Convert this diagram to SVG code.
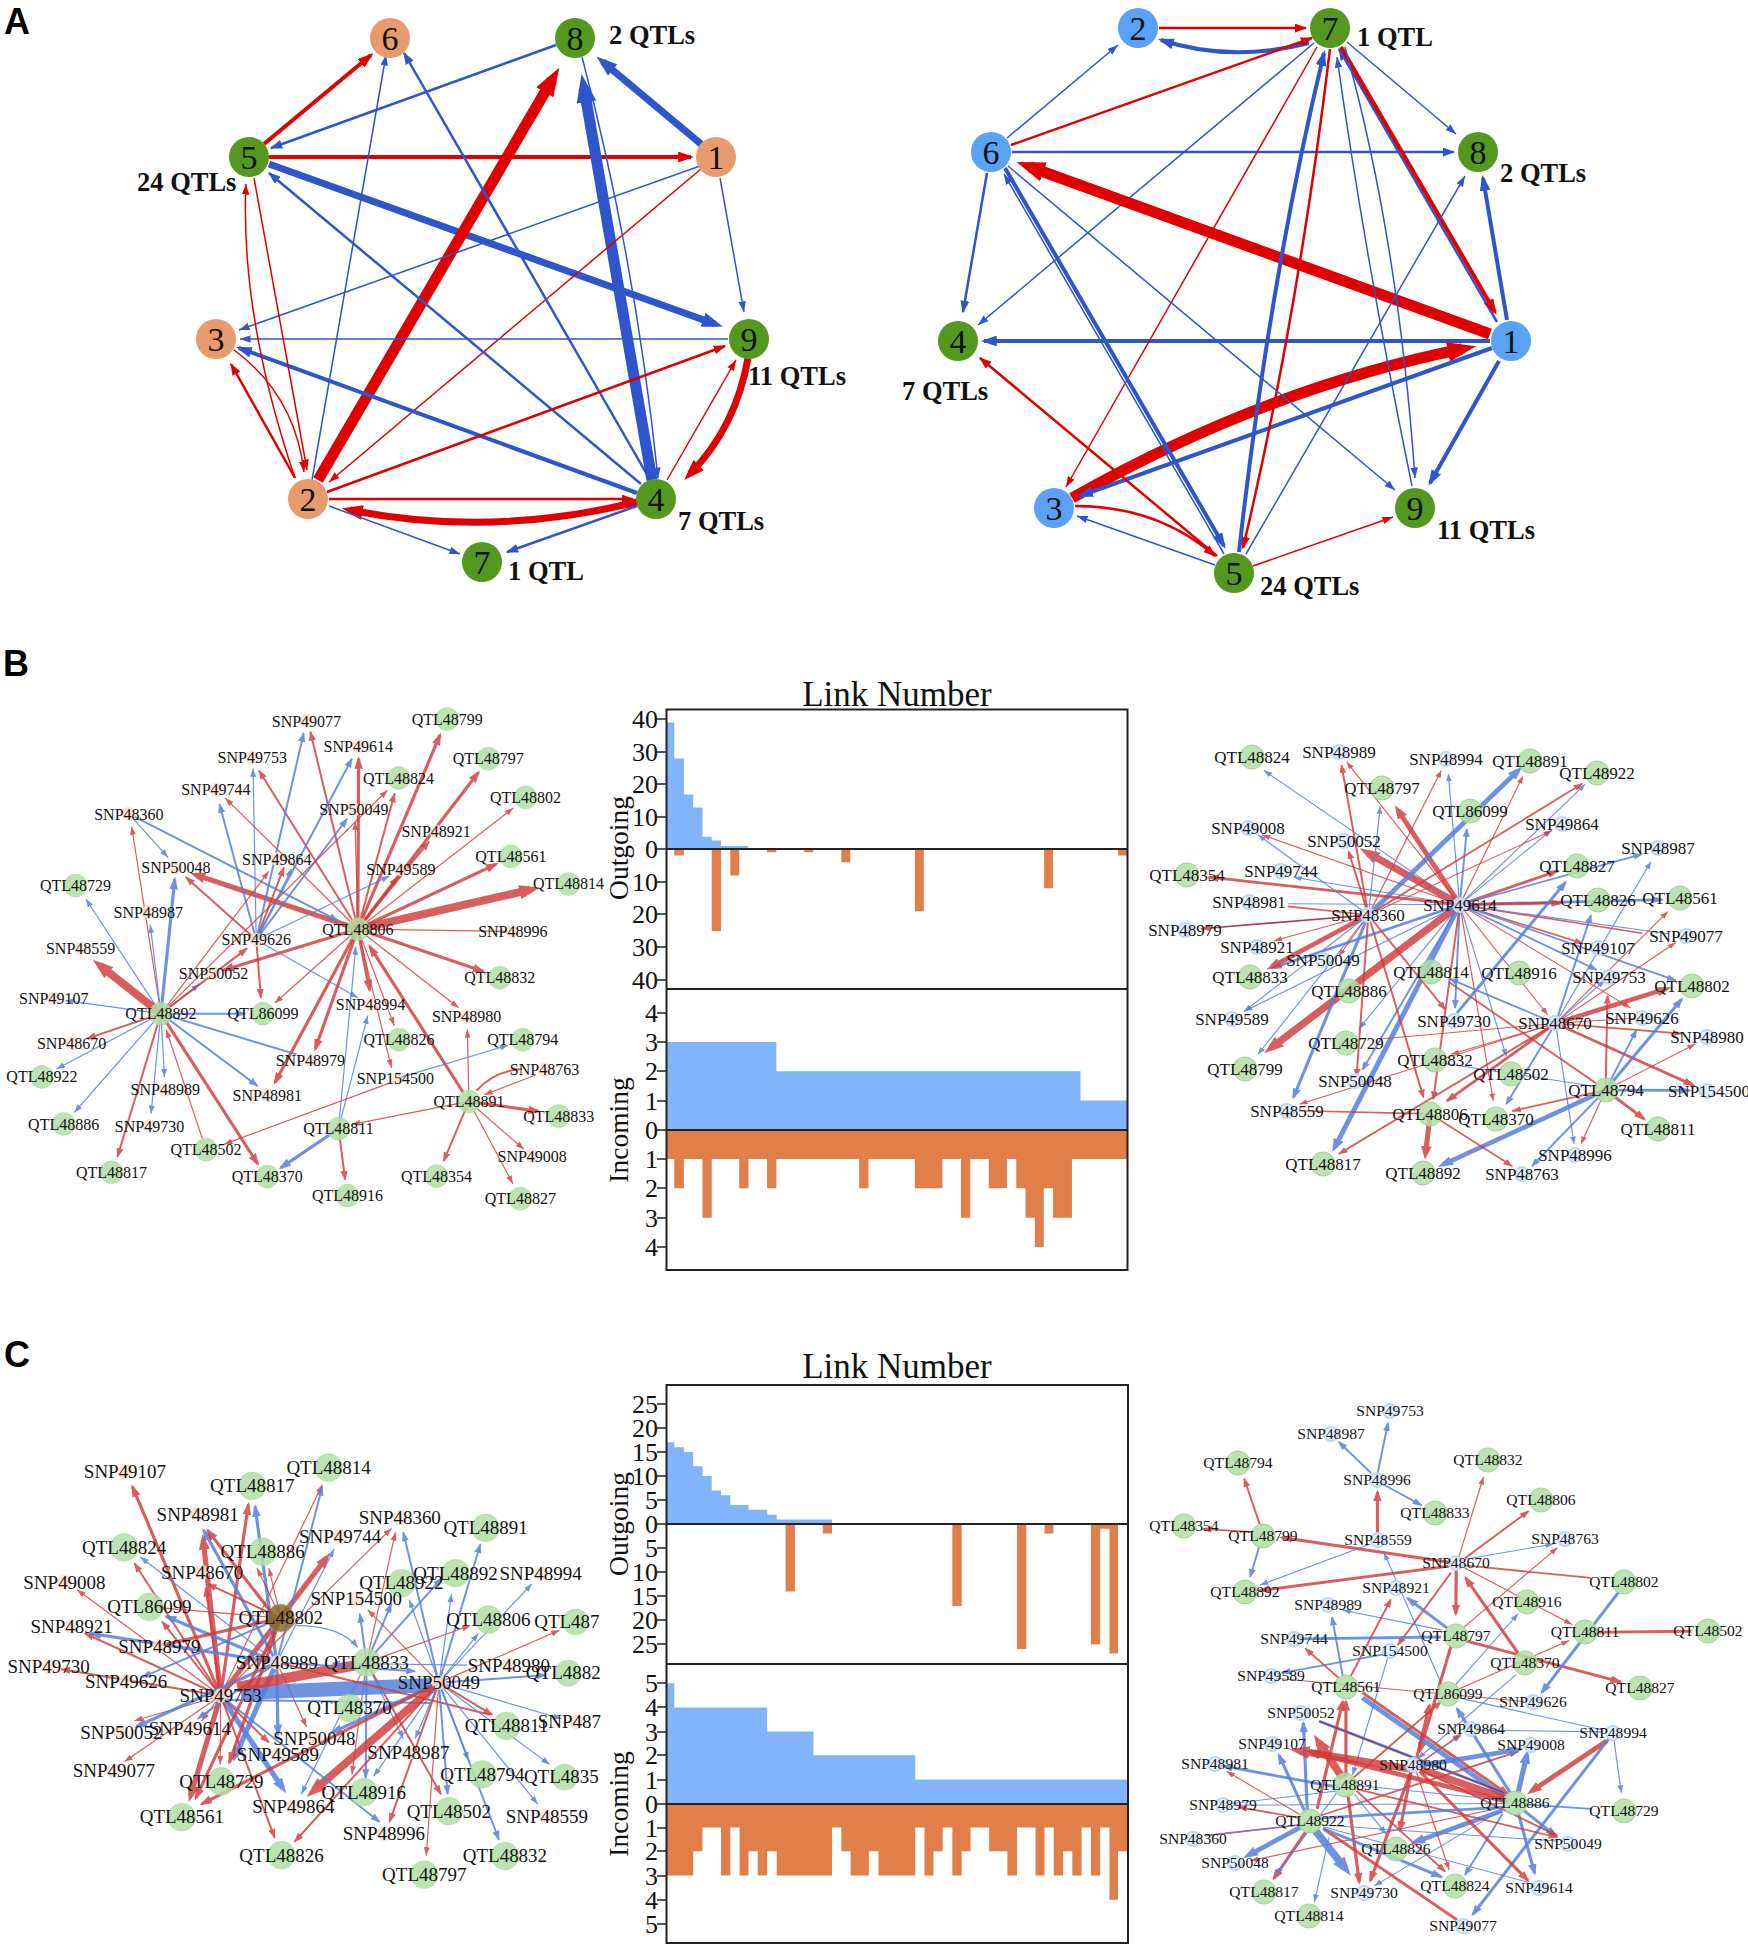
<svg xmlns="http://www.w3.org/2000/svg" width="1748" height="1952" viewBox="0 0 1748 1952">
<style>
text{font-family:"Liberation Serif","Times New Roman",serif;fill:#111;text-anchor:middle}
.lt{font-family:"Liberation Sans",Arial,sans-serif;font-weight:700;font-size:36px;text-anchor:start;fill:#000}
.ql{font-weight:700;font-size:26.5px;text-anchor:start}
.nn{font-size:34px}
.tk{font-size:26px;text-anchor:end}
.ttl{font-size:35px}
.ax{font-size:27.5px}
path{fill:none}
#h{fill:inherit}
.fb{fill:#81b4fb}.fo{fill:#e17f4b}
.tick{stroke:#222;stroke-width:1.5}
.frame{fill:none;stroke:#222;stroke-width:2}
.ao{fill:#e89b6c}.ag{fill:#54981f}.ab{fill:#5aa2f7}
.q{fill:#b3dea6;stroke:#9fd492;stroke-width:1;fill-opacity:.85}
.sp{fill:#fbe3d3;stroke:#f6d5bd;stroke-width:1;fill-opacity:.85}
.sb{fill:#e3effd;stroke:#bcd8f9;stroke-width:2;fill-opacity:.85}
.r1,.r2,.r3,.r4,.r5{stroke:#d23a3a;opacity:.82}
.b1,.b2,.b3,.b4,.b5{stroke:#5580dc;opacity:.85}
.r1,.b1{stroke-width:3}.r2,.b2{stroke-width:5}.r3,.b3{stroke-width:8}.r4,.b4{stroke-width:13}.r5,.b5{stroke-width:20}
.r1{marker-end:url(#nr1)}.r2{marker-end:url(#nr2)}.r3{marker-end:url(#nr3)}.r4{marker-end:url(#nr4)}.r5{marker-end:url(#nr5)}
.b1{marker-end:url(#nb1)}.b2{marker-end:url(#nb2)}.b3{marker-end:url(#nb3)}.b4{marker-end:url(#nb4)}.b5{marker-end:url(#nb5)}
.x,.n{marker-end:none}
.d{stroke:#a01030}
.R1,.R2,.R3,.R4,.R5{stroke:#e00000}
.B1,.B2,.B3,.B4,.B5{stroke:#2f55cc}
.R1,.B1{stroke-width:1.5}.R2,.B2{stroke-width:2.5}.R3,.B3{stroke-width:4}.R4,.B4{stroke-width:7}.R5,.B5{stroke-width:11}
.R1{marker-end:url(#ar1)}.R2{marker-end:url(#ar2)}.R3{marker-end:url(#ar3)}.R4{marker-end:url(#ar4)}.R5{marker-end:url(#ar5)}
.B1{marker-end:url(#ab1)}.B2{marker-end:url(#ab2)}.B3{marker-end:url(#ab3)}.B4{marker-end:url(#ab4)}.B5{marker-end:url(#ab5)}
.bl text{font-size:40.5px}
.cl text{font-size:48px}
.br text{font-size:17px}
.cr text{font-size:15.6px}
.cl .st{text-anchor:start}
</style>
<defs>
<path id="h" d="M0 0L10 5L0 10z"/>
<marker id="nr1" viewBox="0 0 10 10" refX="10" refY="5" markerWidth="7" markerHeight="5" orient="auto" preserveAspectRatio="none"><use href="#h" fill="#d23a3a"/></marker>
<marker id="nr2" viewBox="0 0 10 10" refX="9" refY="5" markerWidth="5" markerHeight="3.6" orient="auto" preserveAspectRatio="none"><use href="#h" fill="#d23a3a"/></marker>
<marker id="nr3" viewBox="0 0 10 10" refX="8" refY="5" markerWidth="4" markerHeight="2.7" orient="auto" preserveAspectRatio="none"><use href="#h" fill="#d23a3a"/></marker>
<marker id="nr4" viewBox="0 0 10 10" refX="6" refY="5" markerWidth="3" markerHeight="2.1" orient="auto" preserveAspectRatio="none"><use href="#h" fill="#d23a3a"/></marker>
<marker id="nr5" viewBox="0 0 10 10" refX="5" refY="5" markerWidth="2.6" markerHeight="1.8" orient="auto" preserveAspectRatio="none"><use href="#h" fill="#d23a3a"/></marker>
<marker id="nb1" viewBox="0 0 10 10" refX="10" refY="5" markerWidth="7" markerHeight="5" orient="auto" preserveAspectRatio="none"><use href="#h" fill="#5580dc"/></marker>
<marker id="nb2" viewBox="0 0 10 10" refX="9" refY="5" markerWidth="5" markerHeight="3.6" orient="auto" preserveAspectRatio="none"><use href="#h" fill="#5580dc"/></marker>
<marker id="nb3" viewBox="0 0 10 10" refX="8" refY="5" markerWidth="4" markerHeight="2.7" orient="auto" preserveAspectRatio="none"><use href="#h" fill="#5580dc"/></marker>
<marker id="nb4" viewBox="0 0 10 10" refX="6" refY="5" markerWidth="3" markerHeight="2.1" orient="auto" preserveAspectRatio="none"><use href="#h" fill="#5580dc"/></marker>
<marker id="nb5" viewBox="0 0 10 10" refX="5" refY="5" markerWidth="2.6" markerHeight="1.8" orient="auto" preserveAspectRatio="none"><use href="#h" fill="#5580dc"/></marker>
<marker id="ar1" viewBox="0 0 10 10" refX="10" refY="5" markerWidth="7" markerHeight="5" orient="auto" preserveAspectRatio="none"><use href="#h" fill="#e00000"/></marker>
<marker id="ar2" viewBox="0 0 10 10" refX="9" refY="5" markerWidth="5" markerHeight="3.6" orient="auto" preserveAspectRatio="none"><use href="#h" fill="#e00000"/></marker>
<marker id="ar3" viewBox="0 0 10 10" refX="8" refY="5" markerWidth="4" markerHeight="2.7" orient="auto" preserveAspectRatio="none"><use href="#h" fill="#e00000"/></marker>
<marker id="ar4" viewBox="0 0 10 10" refX="6" refY="5" markerWidth="3" markerHeight="2.1" orient="auto" preserveAspectRatio="none"><use href="#h" fill="#e00000"/></marker>
<marker id="ar5" viewBox="0 0 10 10" refX="5" refY="5" markerWidth="2.6" markerHeight="1.8" orient="auto" preserveAspectRatio="none"><use href="#h" fill="#e00000"/></marker>
<marker id="ab1" viewBox="0 0 10 10" refX="10" refY="5" markerWidth="7" markerHeight="5" orient="auto" preserveAspectRatio="none"><use href="#h" fill="#2f55cc"/></marker>
<marker id="ab2" viewBox="0 0 10 10" refX="9" refY="5" markerWidth="5" markerHeight="3.6" orient="auto" preserveAspectRatio="none"><use href="#h" fill="#2f55cc"/></marker>
<marker id="ab3" viewBox="0 0 10 10" refX="8" refY="5" markerWidth="4" markerHeight="2.7" orient="auto" preserveAspectRatio="none"><use href="#h" fill="#2f55cc"/></marker>
<marker id="ab4" viewBox="0 0 10 10" refX="6" refY="5" markerWidth="3" markerHeight="2.1" orient="auto" preserveAspectRatio="none"><use href="#h" fill="#2f55cc"/></marker>
<marker id="ab5" viewBox="0 0 10 10" refX="5" refY="5" markerWidth="2.6" markerHeight="1.8" orient="auto" preserveAspectRatio="none"><use href="#h" fill="#2f55cc"/></marker>
</defs>
<rect width="1748" height="1952" fill="#fff"/>
<text class="lt" x="4" y="34">A</text>
<text class="lt" x="3" y="676">B</text>
<text class="lt" x="4" y="1367">C</text>

<g id="al-connectors">
<path class="R3" d="M264 144L371 55"/>
<path class="B4" d="M701 144L603 62"/>
<path class="B2" d="M556 45L271 148"/>
<path class="R3" d="M269 157L691 157"/>
<path class="B4" d="M269 164L715 324"/>
<path class="R5" d="M318 480L552 80"/>
<path class="B5" d="M652 480L584 88"/>
<path class="B1" d="M582 57Q635 257 658 478"/>
<path class="B1" d="M700 166L239 330"/>
<path class="R1" d="M701 169L329 482"/>
<path class="B1" d="M720 178L744 312"/>
<path class="B1" d="M728 339L240 339"/>
<path class="B3" d="M637 493L239 348"/>
<path class="B2" d="M641 484L269 173"/>
<path class="B2" d="M649 478L404 53"/>
<path class="B1" d="M312 480L386 55"/>
<path class="R2" d="M327 492L725 346"/>
<path class="R1" d="M667 480L736 360"/>
<path class="R4" d="M748 358Q736 427 690 474"/>
<path class="R2" d="M329 499L633 499"/>
<path class="R4" d="M637 502Q490 538 350 510"/>
<path class="B1" d="M329 506L460 554"/>
<path class="B2" d="M637 506L507 552"/>
<path class="R1" d="M254 178L307 470"/>
<path class="R1" d="M295 478Q240 316 246 184"/>
<path class="R2" d="M295 478L231 364"/>
<path class="R1" d="M234 350Q295 395 304 472"/>
</g>
<g id="al-6"><circle class="ao" cx="390" cy="38" r="20"/><text class="nn" x="390" y="50">6</text></g>
<g id="al-8"><circle class="ag" cx="575" cy="38" r="20"/><text class="nn" x="575" y="50">8</text></g>
<g id="al-5"><circle class="ag" cx="249" cy="157" r="20"/><text class="nn" x="249" y="169">5</text></g>
<g id="al-1"><circle class="ao" cx="716" cy="157" r="20"/><text class="nn" x="716" y="169">1</text></g>
<g id="al-3"><circle class="ao" cx="216" cy="339" r="20"/><text class="nn" x="216" y="351">3</text></g>
<g id="al-9"><circle class="ag" cx="749" cy="339" r="20"/><text class="nn" x="749" y="351">9</text></g>
<g id="al-2"><circle class="ao" cx="308" cy="499" r="20"/><text class="nn" x="308" y="511">2</text></g>
<g id="al-4"><circle class="ag" cx="656" cy="499" r="20"/><text class="nn" x="656" y="511">4</text></g>
<g id="al-7"><circle class="ag" cx="482" cy="562" r="20"/><text class="nn" x="482" y="574">7</text></g>
<text class="ql" x="609" y="44">2 QTLs</text>
<text class="ql" x="137" y="191">24 QTLs</text>
<text class="ql" x="748" y="385">11 QTLs</text>
<text class="ql" x="678" y="530">7 QTLs</text>
<text class="ql" x="508" y="580">1 QTL</text>

<g id="ar-connectors">
<path class="R2" d="M1159 28L1306 28"/>
<path class="B3" d="M1309 43Q1231 63 1161 40"/>
<path class="B1" d="M1007 138L1118 45"/>
<path class="R2" d="M1011 145L1312 38"/>
<path class="B2" d="M1012 152L1454 152"/>
<path class="B2" d="M987 173L963 312"/>
<path class="B1" d="M1314 43L978 325"/>
<path class="R5" d="M1490 334L1030 167"/>
<path class="B3" d="M1490 341L984 341"/>
<path class="R5" d="M1072 498Q1264 389 1462 349"/>
<path class="B3" d="M1492 348L1080 496"/>
<path class="B2" d="M1497 322L1339 49"/>
<path class="R3" d="M1341 47L1495 312"/>
<path class="B3" d="M1507 320L1483 178"/>
<path class="B3" d="M1499 361L1430 483"/>
<path class="B1" d="M1347 42L1456 134"/>
<path class="R1" d="M1317 47L1066 487"/>
<path class="R2" d="M1330 49Q1298 316 1243 548"/>
<path class="B3" d="M1239 552Q1270 277 1324 53"/>
<path class="B1" d="M1246 554L1465 176"/>
<path class="B1" d="M1412 486Q1365 257 1337 57"/>
<path class="B1" d="M1345 47Q1398 237 1415 478"/>
<path class="B3" d="M1005 168L1224 546"/>
<path class="B1" d="M1224 554L1004 174"/>
<path class="B1" d="M1008 166L1395 490"/>
<path class="B1" d="M1215 565L1077 516"/>
<path class="R2" d="M1075 506Q1158 506 1215 556"/>
<path class="R2" d="M1217 556L980 358"/>
<path class="R1" d="M1253 566L1393 517"/>
</g>
<g id="ar-2"><circle class="ab" cx="1138" cy="28" r="20"/><text class="nn" x="1138" y="40">2</text></g>
<g id="ar-7"><circle class="ag" cx="1330" cy="28" r="20"/><text class="nn" x="1330" y="40">7</text></g>
<g id="ar-6"><circle class="ab" cx="991" cy="152" r="20"/><text class="nn" x="991" y="164">6</text></g>
<g id="ar-8"><circle class="ag" cx="1478" cy="152" r="20"/><text class="nn" x="1478" y="164">8</text></g>
<g id="ar-4"><circle class="ag" cx="958" cy="341" r="20"/><text class="nn" x="958" y="353">4</text></g>
<g id="ar-1"><circle class="ab" cx="1511" cy="341" r="20"/><text class="nn" x="1511" y="353">1</text></g>
<g id="ar-3"><circle class="ab" cx="1054" cy="508" r="20"/><text class="nn" x="1054" y="520">3</text></g>
<g id="ar-9"><circle class="ag" cx="1415" cy="508" r="20"/><text class="nn" x="1415" y="520">9</text></g>
<g id="ar-5"><circle class="ag" cx="1234" cy="573" r="20"/><text class="nn" x="1234" y="585">5</text></g>
<text class="ql" x="1357" y="46">1 QTL</text>
<text class="ql" x="1500" y="182">2 QTLs</text>
<text class="ql" x="902" y="400">7 QTLs</text>
<text class="ql" x="1437" y="539">11 QTLs</text>
<text class="ql" x="1260" y="595">24 QTLs</text>

<g id="chart-b">
<g transform="translate(600,670) scale(.357,.3954)">
<path class="fb" d="M186 453V133H208V224H235V315H261V348H287V422H313V431H339V445H415V453Z"/>
<path class="fo" d="M208 453V469H235V453ZM313 453V660H339V453ZM365 453V520H390V453ZM468 453V461H494V453ZM572 453V461H597V453ZM676 453V486H701V453ZM882 453V610H907V453ZM1244 453V552H1269V453ZM1451 453V469H1477V453Z"/>
<path class="fb" d="M186 1163V941H494V1015H1346V1089H1477V1163Z"/>
<path class="fo" d="M186 1163V1237H1477V1163ZM208 1237V1311H235V1237ZM287 1237V1385H313V1237ZM390 1237V1311H416V1237ZM468 1237V1311H494V1237ZM726 1237V1311H752V1237ZM882 1237V1311H959V1237ZM1011 1237V1385H1037V1237ZM1089 1237V1311H1140V1237ZM1166 1237V1311H1192V1237ZM1192 1237V1385H1218V1237ZM1218 1237V1459H1243V1237ZM1243 1237V1311H1269V1237ZM1269 1237V1385H1322V1237Z"/>
</g>
<rect class="frame" x="666.5" y="709.5" width="461" height="560.5"/>
<path class="tick" style="stroke-width:2" d="M666 849H1127M666 989H1127M666 1130H1127"/>
<path class="tick" d="M657 719H666M657 752H666M657 784H666M657 817H666M657 849H666M657 882H666M657 914H666M657 947H666M657 980H666M657 1013H666M657 1042H666M657 1071H666M657 1101H666M657 1130H666M657 1159H666M657 1188H666M657 1218H666M657 1247H666"/>
<text class="tk" x="658" y="728">40</text><text class="tk" x="658" y="761">30</text><text class="tk" x="658" y="793">20</text><text class="tk" x="658" y="826">10</text><text class="tk" x="658" y="858">0</text><text class="tk" x="658" y="891">10</text><text class="tk" x="658" y="923">20</text><text class="tk" x="658" y="956">30</text><text class="tk" x="658" y="989">40</text>
<text class="tk" x="658" y="1022">4</text><text class="tk" x="658" y="1051">3</text><text class="tk" x="658" y="1080">2</text><text class="tk" x="658" y="1110">1</text><text class="tk" x="658" y="1139">0</text><text class="tk" x="658" y="1168">1</text><text class="tk" x="658" y="1197">2</text><text class="tk" x="658" y="1227">3</text><text class="tk" x="658" y="1256">4</text>
<text class="ttl" x="897" y="706">Link Number</text>
<text class="ax" transform="translate(628,848) rotate(-90)">Outgoing</text>
<text class="ax" transform="translate(628,1130) rotate(-90)">Incoming</text>
</g>

<g id="chart-c">
<g transform="translate(600,1340) scale(.357,.39)">
<path class="fb" d="M186 471V262H208V275H235V287H261V324H287V349H313V386H339V398H365V423H416V435H468V448H495V460H650V471Z"/>
<path class="fo" d="M520 471V645H546V471ZM624 471V496H650V471ZM987 471V682H1013V471ZM1168 471V792H1194V471ZM1245 471V496H1270V471ZM1375 471V780H1401V471ZM1401 471V484H1427V471ZM1427 471V804H1451V471Z"/>
<path class="fb" d="M186 1189V880H208V942H468V1004H598V1065H883V1127H1479V1189Z"/>
<path class="fo" d="M186 1189V1373H261V1311H287V1250H339V1373H365V1250H391V1373H416V1311H442V1373H468V1311H495V1373H650V1250H676V1311H702V1373H753V1311H780V1373H883V1250H909V1373H934V1311H960V1250H987V1373H1013V1311H1038V1250H1090V1311H1141V1373H1168V1250H1220V1373H1245V1250H1271V1373H1297V1311H1323V1373H1349V1250H1375V1373H1401V1250H1427V1435H1451V1311H1479V1189Z"/>
</g>
<rect class="frame" x="666.5" y="1385" width="461.5" height="558"/>
<path class="tick" style="stroke-width:2" d="M666 1524H1128M666 1664H1128M666 1804H1128"/>
<path class="tick" d="M657 1404H666M657 1428H666M657 1452H666M657 1476H666M657 1500H666M657 1524H666M657 1548H666M657 1572H666M657 1596H666M657 1620H666M657 1644H666M657 1683H666M657 1707H666M657 1732H666M657 1755H666M657 1780H666M657 1804H666M657 1828H666M657 1851H666M657 1876H666M657 1900H666M657 1924H666"/>
<text class="tk" x="658" y="1413">25</text><text class="tk" x="658" y="1437">20</text><text class="tk" x="658" y="1461">15</text><text class="tk" x="658" y="1485">10</text><text class="tk" x="658" y="1509">5</text><text class="tk" x="658" y="1533">0</text><text class="tk" x="658" y="1557">5</text><text class="tk" x="658" y="1581">10</text><text class="tk" x="658" y="1605">15</text><text class="tk" x="658" y="1629">20</text><text class="tk" x="658" y="1653">25</text>
<text class="tk" x="658" y="1692">5</text><text class="tk" x="658" y="1716">4</text><text class="tk" x="658" y="1741">3</text><text class="tk" x="658" y="1764">2</text><text class="tk" x="658" y="1789">1</text><text class="tk" x="658" y="1813">0</text><text class="tk" x="658" y="1837">1</text><text class="tk" x="658" y="1860">2</text><text class="tk" x="658" y="1885">3</text><text class="tk" x="658" y="1909">4</text><text class="tk" x="658" y="1933">5</text>
<text class="ttl" x="897" y="1378">Link Number</text>
<text class="ax" transform="translate(628,1524) rotate(-90)">Outgoing</text>
<text class="ax" transform="translate(628,1804) rotate(-90)">Incoming</text>
</g>

<g class="bl" transform="translate(0,640) scale(.3954)">
<g id="bl-connectors">
<path class="r5" d="M905 731L1340 632"/>
<path class="r3" d="M905 731L1113 240"/><path class="r3" d="M905 731L1210 335"/><path class="r1" d="M905 731L1298 425"/><path class="r3" d="M905 731L1255 567"/>
<path class="r2" d="M905 731L1085 510"/><path class="r2" d="M905 731L1005 600"/><path class="r2" d="M905 731L998 388"/><path class="r1" d="M905 731L898 460"/><path class="r3" d="M905 731L907 300"/>
<path class="r2" d="M905 731L785 232"/><path class="r2" d="M905 731L655 330"/><path class="r1" d="M905 731L570 400"/><path class="r4" d="M905 731L495 594"/><path class="r3" d="M905 731L565 835"/>
<path class="r1 x" d="M905 731L1280 737"/><path class="r3" d="M905 731L1222 838"/><path class="r1" d="M905 731L1160 930"/><path class="r1" d="M905 731L997 975"/><path class="r1" d="M905 731L990 1082"/>
<path class="r3" d="M905 731L935 885"/><path class="r3" d="M905 731L695 1120"/><path class="r3" d="M905 731L797 1035"/><path class="r1" d="M905 731L695 918"/>
<path class="r3" d="M1172 1145L935 775"/>
<path class="r2" d="M648 758L470 600"/><path class="r2" d="M648 758L660 905"/><path class="r2" d="M648 758L718 575"/>
<path class="b2" d="M648 758L555 415"/><path class="b1" d="M648 758L640 325"/><path class="b2" d="M648 758L768 235"/><path class="b2" d="M648 758L890 300"/><path class="b2" d="M648 758L878 452"/><path class="b1" d="M648 758L985 597"/><path class="b1" d="M648 758L905 905"/><path class="b1" d="M648 758L738 578"/>
<path class="b1" d="M326 440L425 550"/><path class="b2" d="M326 440L855 710"/>
<path class="r1" d="M407 945L333 472"/><path class="b1" d="M407 945L217 655"/><path class="b1" d="M407 945L380 720"/><path class="b3" d="M407 945L442 605"/><path class="r5" d="M407 945L255 825"/><path class="b1" d="M407 945L165 912"/><path class="b2" d="M407 945L620 945"/><path class="r2" d="M407 945L220 1008"/><path class="b1" d="M407 945L143 1085"/><path class="b1" d="M407 945L188 1195"/><path class="b1" d="M407 945L416 1105"/><path class="b1" d="M407 945L382 1198"/><path class="r2" d="M407 945L297 1307"/><path class="r3" d="M407 945L652 1325"/><path class="b2" d="M407 945L652 1128"/><path class="b2 x" d="M407 945L750 1048"/><path class="r1" d="M512 1262L420 985"/>
<path class="r1" d="M407 945L680 585"/><path class="b1" d="M407 945L505 870"/><path class="r1" d="M407 945L980 380"/><path class="r2" d="M407 945L625 780"/>
<path class="b1" d="M856 1236L930 950"/><path class="b1" d="M856 1236L900 775"/><path class="b3" d="M856 1236L710 1335"/><path class="r2" d="M856 1236L873 1365"/>
<path class="r1" d="M1186 1167L890 1225"/><path class="r1" d="M1186 1167L1182 985"/><path class="r2 x" d="M1205 1140Q1250 1090 1320 1085"/><path class="r1" d="M1355 1100L1225 1150"/><path class="r3" d="M1186 1167L1362 1192"/><path class="r1" d="M1186 1167L1325 1288"/><path class="r1" d="M1186 1167L1297 1375"/><path class="r2" d="M1186 1167L1122 1318"/>
<path class="r1" d="M1000 1115L567 1275"/><path class="b1" d="M1000 1110L1285 1025"/>
</g>
<g id="bl-SNP49077"><circle class="sp" cx="775" cy="205" r="17"/><text x="775" y="219">SNP49077</text></g>
<g id="bl-QTL48799"><circle class="q" cx="1131" cy="200" r="29"/><text x="1131" y="214">QTL48799</text></g>
<g id="bl-SNP49614"><circle class="sp" cx="906" cy="268" r="17"/><text x="906" y="282">SNP49614</text></g>
<g id="bl-SNP49753"><circle class="sp" cx="638" cy="298" r="17"/><text x="638" y="312">SNP49753</text></g>
<g id="bl-QTL48797"><circle class="q" cx="1235" cy="300" r="29"/><text x="1235" y="314">QTL48797</text></g>
<g id="bl-QTL48824"><circle class="q" cx="1008" cy="349" r="29"/><text x="1008" y="363">QTL48824</text></g>
<g id="bl-SNP49744"><circle class="sp" cx="546" cy="379" r="17"/><text x="546" y="393">SNP49744</text></g>
<g id="bl-QTL48802"><circle class="q" cx="1329" cy="398" r="29"/><text x="1329" y="412">QTL48802</text></g>
<g id="bl-SNP48360"><circle class="sp" cx="326" cy="440" r="17"/><text x="326" y="454">SNP48360</text></g>
<g id="bl-SNP50049"><circle class="sp" cx="895" cy="429" r="17"/><text x="895" y="443">SNP50049</text></g>
<g id="bl-SNP48921"><circle class="sp" cx="1103" cy="485" r="17"/><text x="1103" y="499">SNP48921</text></g>
<g id="bl-QTL48561"><circle class="q" cx="1292" cy="547" r="29"/><text x="1292" y="561">QTL48561</text></g>
<g id="bl-SNP49864"><circle class="sp" cx="700" cy="554" r="17"/><text x="700" y="568">SNP49864</text></g>
<g id="bl-SNP50048"><circle class="sp" cx="445" cy="576" r="17"/><text x="445" y="590">SNP50048</text></g>
<g id="bl-SNP49589"><circle class="sp" cx="1014" cy="580" r="17"/><text x="1014" y="594">SNP49589</text></g>
<g id="bl-QTL48729"><circle class="q" cx="191" cy="621" r="29"/><text x="191" y="635">QTL48729</text></g>
<g id="bl-QTL48814"><circle class="q" cx="1438" cy="617" r="29"/><text x="1438" y="631">QTL48814</text></g>
<g id="bl-SNP48987"><circle class="sp" cx="375" cy="688" r="17"/><text x="375" y="702">SNP48987</text></g>
<g id="bl-QTL48806"><circle class="q" cx="905" cy="731" r="29"/><text x="905" y="745">QTL48806</text></g>
<g id="bl-SNP48996"><circle class="sp" cx="1297" cy="737" r="17"/><text x="1297" y="751">SNP48996</text></g>
<g id="bl-SNP49626"><circle class="sp" cx="648" cy="758" r="17"/><text x="648" y="772">SNP49626</text></g>
<g id="bl-SNP48559"><circle class="sp" cx="204" cy="780" r="17"/><text x="204" y="794">SNP48559</text></g>
<g id="bl-QTL48832"><circle class="q" cx="1264" cy="854" r="29"/><text x="1264" y="868">QTL48832</text></g>
<g id="bl-SNP50052"><circle class="sp" cx="540" cy="843" r="17"/><text x="540" y="857">SNP50052</text></g>
<g id="bl-SNP49107"><circle class="sp" cx="136" cy="907" r="17"/><text x="136" y="921">SNP49107</text></g>
<g id="bl-QTL48892"><circle class="q" cx="407" cy="945" r="29"/><text x="407" y="959">QTL48892</text></g>
<g id="bl-QTL86099"><circle class="q" cx="665" cy="945" r="29"/><text x="665" y="959">QTL86099</text></g>
<g id="bl-SNP48994"><circle class="sp" cx="937" cy="922" r="17"/><text x="937" y="936">SNP48994</text></g>
<g id="bl-SNP48980"><circle class="sp" cx="1180" cy="952" r="17"/><text x="1180" y="966">SNP48980</text></g>
<g id="bl-QTL48826"><circle class="q" cx="1009" cy="1011" r="29"/><text x="1009" y="1025">QTL48826</text></g>
<g id="bl-QTL48794"><circle class="q" cx="1322" cy="1011" r="29"/><text x="1322" y="1025">QTL48794</text></g>
<g id="bl-SNP48670"><circle class="sp" cx="181" cy="1020" r="17"/><text x="181" y="1034">SNP48670</text></g>
<g id="bl-SNP48979"><circle class="sp" cx="785" cy="1064" r="17"/><text x="785" y="1078">SNP48979</text></g>
<g id="bl-SNP48763"><circle class="sp" cx="1377" cy="1087" r="17"/><text x="1377" y="1101">SNP48763</text></g>
<g id="bl-QTL48922"><circle class="q" cx="106" cy="1105" r="29"/><text x="106" y="1119">QTL48922</text></g>
<g id="bl-SNP154500"><circle class="sp" cx="1000" cy="1110" r="17"/><text x="1000" y="1124">SNP154500</text></g>
<g id="bl-SNP48989"><circle class="sp" cx="418" cy="1137" r="17"/><text x="418" y="1151">SNP48989</text></g>
<g id="bl-SNP48981"><circle class="sp" cx="676" cy="1151" r="17"/><text x="676" y="1165">SNP48981</text></g>
<g id="bl-QTL48891"><circle class="q" cx="1186" cy="1167" r="29"/><text x="1186" y="1181">QTL48891</text></g>
<g id="bl-QTL48833"><circle class="q" cx="1413" cy="1204" r="29"/><text x="1413" y="1218">QTL48833</text></g>
<g id="bl-QTL48886"><circle class="q" cx="161" cy="1224" r="29"/><text x="161" y="1238">QTL48886</text></g>
<g id="bl-SNP49730"><circle class="sp" cx="378" cy="1230" r="17"/><text x="378" y="1244">SNP49730</text></g>
<g id="bl-QTL48811"><circle class="q" cx="856" cy="1236" r="29"/><text x="856" y="1250">QTL48811</text></g>
<g id="bl-QTL48502"><circle class="q" cx="521" cy="1289" r="29"/><text x="521" y="1303">QTL48502</text></g>
<g id="bl-SNP49008"><circle class="sp" cx="1346" cy="1305" r="17"/><text x="1346" y="1319">SNP49008</text></g>
<g id="bl-QTL48817"><circle class="q" cx="282" cy="1346" r="29"/><text x="282" y="1360">QTL48817</text></g>
<g id="bl-QTL48370"><circle class="q" cx="676" cy="1357" r="29"/><text x="676" y="1371">QTL48370</text></g>
<g id="bl-QTL48354"><circle class="q" cx="1104" cy="1356" r="29"/><text x="1104" y="1370">QTL48354</text></g>
<g id="bl-QTL48916"><circle class="q" cx="879" cy="1405" r="29"/><text x="879" y="1419">QTL48916</text></g>
<g id="bl-QTL48827"><circle class="q" cx="1316" cy="1413" r="29"/><text x="1316" y="1427">QTL48827</text></g>
</g>

<g class="br">
<g id="br-connectors" transform="translate(1130,700) scale(.394,.344)">
<path class="r4" d="M837 595L680 320"/><path class="r5" d="M837 595L605 445"/><path class="b4" d="M605 625L985 205"/><path class="r1" d="M837 595L550 180"/><path class="r1" d="M605 625L790 205"/><path class="b1" d="M837 595L808 215"/><path class="r1" d="M837 595L997 222"/><path class="b2" d="M837 595L855 375"/><path class="b1" d="M837 595L1155 245"/><path class="r2" d="M605 625L1148 243"/><path class="b1" d="M837 595L1070 378"/><path class="r1" d="M605 625L1070 380"/><path class="r3" d="M837 595L1085 497"/><path class="b2" d="M837 595L1300 448"/><path class="b3" d="M837 595L1350 580"/><path class="r3" d="M837 595L1095 590"/><path class="r2 x" d="M837 595L1300 678"/><path class="b1 x" d="M837 595L1370 680"/><path class="r2" d="M837 595L1150 708"/><path class="b2" d="M837 595L1185 785"/><path class="b2" d="M837 595L1385 815"/><path class="r1" d="M837 595L1270 895"/><path class="r1" d="M837 595L1060 915"/><path class="r1" d="M837 595L922 1165"/><path class="b1" d="M837 595L955 1035"/><path class="b2" d="M837 595L825 895"/><path class="r2" d="M837 595L770 1160"/><path class="b4" d="M837 595L520 1300"/><path class="r5" d="M837 595L360 1010"/><path class="b1" d="M837 595L582 955"/><path class="b2" d="M837 595L590 1075"/><path class="b1" d="M837 595L290 905"/><path class="b3" d="M837 595L360 780"/><path class="b1" d="M837 595L415 515"/><path class="r3" d="M837 595L200 515"/><path class="b1 x" d="M837 595L400 592"/><path class="r2 x" d="M605 625L400 600"/>
<path class="r1" d="M837 595L335 392"/><path class="r2" d="M605 625L555 440"/><path class="r2" d="M605 625L537 190"/><path class="b1" d="M837 595L340 205"/><path class="b1" d="M605 625L325 392"/><path class="b1" d="M605 625L635 310"/><path class="r2 d" d="M605 625L180 665"/><path class="r1" d="M605 625L365 700"/><path class="r4" d="M605 625L360 775"/><path class="r1" d="M605 625L530 745"/><path class="b1" d="M605 625L290 905"/><path class="b1" d="M605 625L325 1030"/><path class="b3" d="M605 625L415 1155"/><path class="r2" d="M605 625L575 1095"/><path class="r2" d="M605 625L745 1155"/><path class="r2" d="M605 625L800 900"/>
<path class="r4" d="M1080 940L1360 840"/><path class="r2" d="M1080 940L1400 970"/><path class="r3" d="M1080 940L1430 1120"/><path class="r1 x" d="M1080 940L1300 924"/><path class="r1" d="M1080 940L1365 615"/><path class="r1" d="M1080 940L1385 705"/><path class="r1 x" d="M1080 940L640 985"/><path class="r1" d="M1080 940L815 1030"/><path class="r1" d="M1080 940L430 1175"/><path class="r3" d="M1080 940L805 1165"/><path class="r2" d="M1080 940L530 1320"/><path class="b2" d="M1080 940L955 1175"/><path class="b1" d="M1080 940L1127 1290"/><path class="b2" d="M1080 940L1170 625"/><path class="b1" d="M1080 940L1205 815"/><path class="b2" d="M1080 940L810 810"/><path class="r2 x" d="M810 820L1190 1120"/><path class="b3" d="M830 910L1105 530"/>
<path class="r2" d="M1207 1134L1212 860"/><path class="b3" d="M1207 1134L1400 870"/><path class="b2" d="M1207 1134L1285 960"/><path class="r1" d="M1207 1134L1435 1000"/><path class="b3" d="M1207 1134L1420 1135"/><path class="r3" d="M1207 1134L1305 1218"/><path class="r1" d="M1207 1134L1145 1290"/><path class="b2" d="M1207 1134L1020 1355"/><path class="b4" d="M1207 1134L795 1350"/><path class="r2" d="M1207 1134L970 1195"/><path class="b1" d="M1080 940L1322 470"/><path class="b1 x" d="M790 1055L1190 1125"/>
<path class="r2" d="M762 1203L970 1355"/><path class="r4" d="M762 1203L750 1320"/><path class="r2 x" d="M762 1203L430 1194"/>
</g>
<g id="br-QTL48824"><circle class="q" cx="1252" cy="757" r="12"/><text x="1252" y="763">QTL48824</text></g>
<g id="br-SNP48989"><circle class="sb" cx="1339" cy="752" r="7"/><text x="1339" y="758">SNP48989</text></g>
<g id="br-SNP48994"><circle class="sb" cx="1446" cy="759" r="7"/><text x="1446" y="765">SNP48994</text></g>
<g id="br-QTL48891"><circle class="q" cx="1530" cy="761" r="12"/><text x="1530" y="767">QTL48891</text></g>
<g id="br-QTL48922"><circle class="q" cx="1597" cy="773" r="12"/><text x="1597" y="779">QTL48922</text></g>
<g id="br-QTL48797"><circle class="q" cx="1382" cy="788" r="12"/><text x="1382" y="794">QTL48797</text></g>
<g id="br-QTL86099"><circle class="q" cx="1470" cy="811" r="12"/><text x="1470" y="817">QTL86099</text></g>
<g id="br-SNP49008"><circle class="sb" cx="1248" cy="828" r="7"/><text x="1248" y="834">SNP49008</text></g>
<g id="br-SNP49864"><circle class="sb" cx="1562" cy="824" r="7"/><text x="1562" y="830">SNP49864</text></g>
<g id="br-SNP50052"><circle class="sb" cx="1344" cy="841" r="7"/><text x="1344" y="847">SNP50052</text></g>
<g id="br-SNP48987"><circle class="sb" cx="1658" cy="848" r="7"/><text x="1658" y="854">SNP48987</text></g>
<g id="br-SNP49744"><circle class="sb" cx="1281" cy="871" r="7"/><text x="1281" y="877">SNP49744</text></g>
<g id="br-QTL48827"><circle class="q" cx="1577" cy="866" r="12"/><text x="1577" y="872">QTL48827</text></g>
<g id="br-QTL48354"><circle class="q" cx="1187" cy="875" r="12"/><text x="1187" y="881">QTL48354</text></g>
<g id="br-SNP48981"><circle class="sb" cx="1249" cy="902" r="7"/><text x="1249" y="908">SNP48981</text></g>
<g id="br-QTL48826"><circle class="q" cx="1598" cy="900" r="12"/><text x="1598" y="906">QTL48826</text></g>
<g id="br-QTL48561"><circle class="q" cx="1680" cy="898" r="12"/><text x="1680" y="904">QTL48561</text></g>
<g id="br-SNP49614"><circle class="sb" cx="1460" cy="905" r="7"/><text x="1460" y="911">SNP49614</text></g>
<g id="br-SNP48360"><circle class="sb" cx="1368" cy="915" r="7"/><text x="1368" y="921">SNP48360</text></g>
<g id="br-SNP48979"><circle class="sb" cx="1185" cy="930" r="7"/><text x="1185" y="936">SNP48979</text></g>
<g id="br-SNP49077"><circle class="sb" cx="1686" cy="936" r="7"/><text x="1686" y="942">SNP49077</text></g>
<g id="br-SNP48921"><circle class="sb" cx="1257" cy="947" r="7"/><text x="1257" y="953">SNP48921</text></g>
<g id="br-SNP49107"><circle class="sb" cx="1598" cy="948" r="7"/><text x="1598" y="954">SNP49107</text></g>
<g id="br-SNP50049"><circle class="sb" cx="1323" cy="960" r="7"/><text x="1323" y="966">SNP50049</text></g>
<g id="br-QTL48814"><circle class="q" cx="1431" cy="972" r="12"/><text x="1431" y="978">QTL48814</text></g>
<g id="br-QTL48916"><circle class="q" cx="1519" cy="973" r="12"/><text x="1519" y="979">QTL48916</text></g>
<g id="br-QTL48833"><circle class="q" cx="1250" cy="977" r="12"/><text x="1250" y="983">QTL48833</text></g>
<g id="br-SNP49753"><circle class="sb" cx="1609" cy="977" r="7"/><text x="1609" y="983">SNP49753</text></g>
<g id="br-QTL48802"><circle class="q" cx="1692" cy="986" r="12"/><text x="1692" y="992">QTL48802</text></g>
<g id="br-QTL48886"><circle class="q" cx="1349" cy="991" r="12"/><text x="1349" y="997">QTL48886</text></g>
<g id="br-SNP49589"><circle class="sb" cx="1232" cy="1019" r="7"/><text x="1232" y="1025">SNP49589</text></g>
<g id="br-SNP49730"><circle class="sb" cx="1454" cy="1021" r="7"/><text x="1454" y="1027">SNP49730</text></g>
<g id="br-SNP49626"><circle class="sb" cx="1642" cy="1018" r="7"/><text x="1642" y="1024">SNP49626</text></g>
<g id="br-SNP48670"><circle class="sb" cx="1555" cy="1023" r="7"/><text x="1555" y="1029">SNP48670</text></g>
<g id="br-SNP48980"><circle class="sb" cx="1707" cy="1037" r="7"/><text x="1707" y="1043">SNP48980</text></g>
<g id="br-QTL48729"><circle class="q" cx="1346" cy="1043" r="12"/><text x="1346" y="1049">QTL48729</text></g>
<g id="br-QTL48832"><circle class="q" cx="1435" cy="1060" r="12"/><text x="1435" y="1066">QTL48832</text></g>
<g id="br-QTL48502"><circle class="q" cx="1511" cy="1074" r="12"/><text x="1511" y="1080">QTL48502</text></g>
<g id="br-QTL48799"><circle class="q" cx="1245" cy="1069" r="12"/><text x="1245" y="1075">QTL48799</text></g>
<g id="br-SNP50048"><circle class="sb" cx="1355" cy="1081" r="7"/><text x="1355" y="1087">SNP50048</text></g>
<g id="br-QTL48794"><circle class="q" cx="1606" cy="1090" r="12"/><text x="1606" y="1096">QTL48794</text></g>
<g id="br-SNP154500"><circle class="sb" cx="1707" cy="1091" r="7"/><text x="1709" y="1097">SNP154500</text></g>
<g id="br-SNP48559"><circle class="sb" cx="1287" cy="1111" r="7"/><text x="1287" y="1117">SNP48559</text></g>
<g id="br-QTL48806"><circle class="q" cx="1430" cy="1114" r="12"/><text x="1430" y="1120">QTL48806</text></g>
<g id="br-QTL48370"><circle class="q" cx="1496" cy="1119" r="12"/><text x="1496" y="1125">QTL48370</text></g>
<g id="br-QTL48811"><circle class="q" cx="1658" cy="1129" r="12"/><text x="1658" y="1135">QTL48811</text></g>
<g id="br-SNP48996"><circle class="sb" cx="1575" cy="1155" r="7"/><text x="1575" y="1161">SNP48996</text></g>
<g id="br-QTL48817"><circle class="q" cx="1323" cy="1164" r="12"/><text x="1323" y="1170">QTL48817</text></g>
<g id="br-QTL48892"><circle class="q" cx="1423" cy="1173" r="12"/><text x="1423" y="1179">QTL48892</text></g>
<g id="br-SNP48763"><circle class="sb" cx="1522" cy="1174" r="7"/><text x="1522" y="1180">SNP48763</text></g>
</g>

<g class="cl" transform="translate(0,1330) scale(.3954,.3967)">
<g id="cl-connectors">
<path class="r3" d="M558 922L335 395"/><path class="r4" d="M558 922L514 530"/><path class="r3" d="M558 922L628 440"/><path class="r1" d="M558 922L815 390"/><path class="r4" d="M558 922L825 575"/><path class="r2" d="M558 922L340 588"/><path class="r1" d="M558 922L195 655"/><path class="r2" d="M558 922L410 735"/><path class="r2" d="M558 922L215 765"/><path class="r2" d="M558 922L520 650"/><path class="r2" d="M558 922L155 855"/><path class="r1" d="M558 922L340 985"/><path class="r1" d="M558 922L315 1088"/><path class="r1" d="M558 922L510 985"/><path class="r4" d="M558 922L482 1175"/><path class="r1" d="M558 922L557 1095"/><path class="b4" d="M558 922L715 1155"/><path class="r2" d="M558 922L695 1280"/><path class="r2" d="M558 922L680 1040"/>
<path class="b2" d="M710 726L360 875"/><path class="b3" d="M700 838L345 1000"/>
<path class="b3" d="M700 838L515 505"/><path class="b3" d="M700 838L645 445"/><path class="b2" d="M700 838L815 395"/><path class="r3" d="M700 730L525 505"/><path class="b1" d="M700 838L355 572"/><path class="b3" d="M700 838L420 722"/><path class="b3" d="M700 838L230 765"/><path class="b1" d="M700 838L845 552"/><path class="b3" d="M700 838L703 1020"/><path class="b4" d="M700 838L595 1075"/><path class="b2" d="M700 838L500 980"/><path class="r1" d="M700 838L775 1000"/>
<path class="r3" d="M710 726L495 1180"/><path class="r3" d="M710 726L580 1090"/><path class="r1" d="M558 922L990 500"/><path class="r1" d="M710 726L650 600"/><path class="r1" d="M710 726L680 600"/><path class="b1" d="M750 745Q860 745 905 800"/><path class="r1 x" d="M378 698L710 726"/><path class="r2" d="M710 726L525 640"/>
<path class="r3 x" d="M400 797L710 726"/>
<path class="b2" d="M927 838L910 715"/><path class="b2" d="M927 838L990 690"/><path class="b2" d="M927 838L1118 625"/><path class="r1" d="M927 838L1000 510"/><path class="b2" d="M927 838L925 1130"/><path class="b1" d="M927 838L762 1170"/><path class="r2" d="M927 838L1115 1170"/><path class="r1" d="M927 838L890 1120"/><path class="b1" d="M927 838L1020 1030"/>
<path class="b5 x" style="stroke-width:36" d="M1090 895L610 915"/><path class="r5 x" style="stroke-width:26" d="M600 900L900 845"/><path class="b2 x" d="M558 932L1090 940"/><path class="r2 x" d="M700 838L1240 970"/><path class="b2" d="M700 838L1050 860"/>
<path class="r5" d="M1110 889L795 1160"/><path class="r2" d="M1110 889L745 1290"/><path class="r2" d="M1110 889L985 1240"/><path class="r1" d="M1110 889L1078 1325"/><path class="b2" d="M1110 889L1132 1170"/><path class="b1" d="M1110 889L1185 1085"/><path class="b2" d="M1110 889L1262 1285"/><path class="b1" d="M1110 889L1360 1195"/><path class="b1" d="M1110 889L1390 1095"/><path class="b1" d="M1110 889L1420 980"/><path class="r2" d="M1110 889L1245 970"/><path class="b2" d="M1110 889L1380 870"/><path class="r1" d="M1110 889L1415 757"/><path class="r1" d="M927 838L1190 745"/><path class="b1" d="M1110 889L1210 765"/><path class="b1" d="M1110 889L1345 640"/><path class="b1" d="M1110 889L1142 665"/><path class="b2" d="M1110 889L1215 540"/><path class="b2" d="M1110 889L1020 510"/><path class="b1" d="M1110 889L1035 680"/><path class="r1" d="M1110 889L930 705"/><path class="b1" d="M1110 889L1050 1030"/><path class="b3" d="M1110 889L840 1015"/><path class="b1" d="M1110 889L945 1125"/><path class="b2" d="M558 922L960 1240"/><path class="r3" d="M1110 889L510 1195"/><path class="b1" d="M1180 845L840 840"/>
</g>
<g id="cl-SNP49107"><circle class="sp" cx="316" cy="357" r="18"/><text x="316" y="373">SNP49107</text></g>
<g id="cl-QTL48814"><circle class="q" cx="831" cy="347" r="35"/><text x="831" y="363">QTL48814</text></g>
<g id="cl-QTL48817"><circle class="q" cx="638" cy="393" r="35"/><text x="638" y="409">QTL48817</text></g>
<g id="cl-SNP48981"><circle class="sp" cx="500" cy="465" r="18"/><text x="500" y="481">SNP48981</text></g>
<g id="cl-SNP48360"><circle class="sp" cx="1011" cy="473" r="18"/><text x="1011" y="489">SNP48360</text></g>
<g id="cl-QTL48891"><circle class="q" cx="1228" cy="499" r="35"/><text x="1228" y="515">QTL48891</text></g>
<g id="cl-SNP49744"><circle class="sp" cx="860" cy="522" r="18"/><text x="860" y="538">SNP49744</text></g>
<g id="cl-QTL48824"><circle class="q" cx="314" cy="548" r="35"/><text x="314" y="564">QTL48824</text></g>
<g id="cl-QTL48886"><circle class="q" cx="664" cy="559" r="35"/><text x="664" y="575">QTL48886</text></g>
<g id="cl-QTL48892"><circle class="q" cx="1152" cy="613" r="35"/><text x="1152" y="629">QTL48892</text></g>
<g id="cl-SNP48994"><circle class="sp" cx="1367" cy="615" r="18"/><text x="1367" y="631">SNP48994</text></g>
<g id="cl-SNP48670"><circle class="sp" cx="511" cy="611" r="18"/><text x="511" y="627">SNP48670</text></g>
<g id="cl-SNP49008"><circle class="sp" cx="163" cy="636" r="18"/><text x="163" y="652">SNP49008</text></g>
<g id="cl-QTL48922"><circle class="q" cx="1015" cy="638" r="35"/><text x="1015" y="654">QTL48922</text></g>
<g id="cl-SNP154500"><circle class="sp" cx="901" cy="678" r="18"/><text x="901" y="694">SNP154500</text></g>
<g id="cl-QTL86099"><circle class="q" cx="378" cy="698" r="35"/><text x="378" y="714">QTL86099</text></g>
<g id="cl-QTL48806"><circle class="q" cx="1235" cy="730" r="35"/><text x="1235" y="746">QTL48806</text></g>
<g id="cl-QTL487"><circle class="q" cx="1456" cy="736" r="33"/><text class="st" x="1351" y="752">QTL487</text></g>
<g id="cl-SNP48921"><circle class="sp" cx="181" cy="747" r="18"/><text x="181" y="763">SNP48921</text></g>
<g id="cl-QTL48802"><circle class="q" cx="710" cy="726" r="35" style="fill:#8a6a2a"/><text x="710" y="742">QTL48802</text></g>
<g id="cl-SNP48979"><circle class="sp" cx="403" cy="797" r="18"/><text x="403" y="813">SNP48979</text></g>
<g id="cl-SNP48989"><circle class="sp" cx="700" cy="838" r="18"/><text x="700" y="854">SNP48989</text></g>
<g id="cl-QTL48833"><circle class="q" cx="927" cy="838" r="35"/><text x="927" y="854">QTL48833</text></g>
<g id="cl-SNP49730"><circle class="sp" cx="123" cy="848" r="18"/><text x="123" y="864">SNP49730</text></g>
<g id="cl-SNP48980"><circle class="sp" cx="1287" cy="845" r="18"/><text x="1287" y="861">SNP48980</text></g>
<g id="cl-QTL4882"><circle class="q" cx="1437" cy="865" r="33"/><text class="st" x="1330" y="881">QTL4882</text></g>
<g id="cl-SNP49626"><circle class="sp" cx="319" cy="886" r="18"/><text x="319" y="902">SNP49626</text></g>
<g id="cl-SNP50049"><circle class="sp" cx="1110" cy="889" r="18"/><text x="1110" y="905">SNP50049</text></g>
<g id="cl-SNP49753"><circle class="sp" cx="558" cy="922" r="18"/><text x="558" y="938">SNP49753</text></g>
<g id="cl-QTL48370"><circle class="q" cx="884" cy="953" r="35"/><text x="884" y="969">QTL48370</text></g>
<g id="cl-QTL48811"><circle class="q" cx="1281" cy="998" r="35"/><text x="1281" y="1014">QTL48811</text></g>
<g id="cl-SNP487"><circle class="sp" cx="1460" cy="988" r="18"/><text class="st" x="1360" y="1004">SNP487</text></g>
<g id="cl-SNP50052"><circle class="sp" cx="307" cy="1015" r="18"/><text x="307" y="1031">SNP50052</text></g>
<g id="cl-SNP49614"><circle class="sp" cx="480" cy="1006" r="18"/><text x="480" y="1022">SNP49614</text></g>
<g id="cl-SNP50048"><circle class="sp" cx="795" cy="1029" r="18"/><text x="795" y="1045">SNP50048</text></g>
<g id="cl-SNP49589"><circle class="sp" cx="703" cy="1071" r="18"/><text x="703" y="1087">SNP49589</text></g>
<g id="cl-SNP48987"><circle class="sp" cx="1033" cy="1065" r="18"/><text x="1033" y="1081">SNP48987</text></g>
<g id="cl-SNP49077"><circle class="sp" cx="288" cy="1112" r="18"/><text x="288" y="1128">SNP49077</text></g>
<g id="cl-QTL48794"><circle class="q" cx="1220" cy="1120" r="35"/><text x="1220" y="1136">QTL48794</text></g>
<g id="cl-QTL4835"><circle class="q" cx="1428" cy="1127" r="33"/><text class="st" x="1325" y="1143">QTL4835</text></g>
<g id="cl-QTL48729"><circle class="q" cx="560" cy="1138" r="35"/><text x="560" y="1154">QTL48729</text></g>
<g id="cl-QTL48916"><circle class="q" cx="920" cy="1165" r="35"/><text x="920" y="1181">QTL48916</text></g>
<g id="cl-SNP49864"><circle class="sp" cx="742" cy="1202" r="18"/><text x="742" y="1218">SNP49864</text></g>
<g id="cl-QTL48561"><circle class="q" cx="460" cy="1228" r="35"/><text x="460" y="1244">QTL48561</text></g>
<g id="cl-QTL48502"><circle class="q" cx="1135" cy="1213" r="35"/><text x="1135" y="1229">QTL48502</text></g>
<g id="cl-SNP48559"><circle class="sp" cx="1383" cy="1226" r="18"/><text x="1383" y="1242">SNP48559</text></g>
<g id="cl-SNP48996"><circle class="sp" cx="971" cy="1270" r="18"/><text x="971" y="1286">SNP48996</text></g>
<g id="cl-QTL48826"><circle class="q" cx="712" cy="1324" r="35"/><text x="712" y="1340">QTL48826</text></g>
<g id="cl-QTL48832"><circle class="q" cx="1277" cy="1326" r="35"/><text x="1277" y="1342">QTL48832</text></g>
<g id="cl-QTL48797"><circle class="q" cx="1073" cy="1373" r="35"/><text x="1073" y="1389">QTL48797</text></g>
</g>

<g class="cr">
<g id="cr-connectors" transform="translate(1130,1390) scale(.394,.358)">
<path class="r2" d="M330 378L290 248"/><path class="r2" d="M310 397L185 388"/><path class="b2" d="M328 437L305 522"/><path class="b2" d="M627 240L655 92"/><path class="b2" d="M612 232L530 145"/><path class="b2" d="M640 262L740 322"/><path class="r3" d="M628 405L628 285"/><path class="r3" d="M828 484L385 412"/><path class="b1" d="M610 430L330 545"/><path class="b1" d="M790 820L645 455"/><path class="r1" d="M835 465L897 243"/><path class="r2" d="M850 470L1012 338"/><path class="b1" d="M850 473L1075 430"/><path class="r2 x" d="M850 490L1170 525"/><path class="r3" d="M810 492L330 560"/><path class="r1" d="M850 497L1122 655"/><path class="r3" d="M828 505L827 625"/><path class="r2" d="M815 510L680 712"/><path class="r3" d="M985 735L852 525"/>
<path class="b3" d="M805 665L705 582"/><path class="b1" d="M790 670L540 615"/><path class="b3 x" d="M790 690L430 695"/><path class="r1" d="M845 665L1085 440"/><path class="r3" d="M850 700L1245 815"/><path class="r3 x" d="M1160 677L1425 674"/><path class="b3" d="M1240 565L1045 845"/><path class="r2" d="M560 800L662 585"/><path class="b2" d="M540 800L513 635"/><path class="r2" d="M530 805L445 722"/><path class="b2" d="M660 735L385 790"/><path class="b1" d="M655 745L565 1075"/><path class="r1 x" d="M370 805L1000 870"/><path class="b1" d="M825 825L985 625"/><path class="r1" d="M835 835L1115 700"/><path class="b1 x" d="M835 860L1200 950"/><path class="r3" d="M815 715L735 1010"/>
<path class="b1 x" d="M1200 955L885 950"/><path class="r4" d="M1210 980L1020 1120"/><path class="b1" d="M1228 975L1247 1125"/><path class="b3" d="M1215 975L870 1465"/><path class="b1" d="M980 795L730 1030"/><path class="r3" d="M590 845L960 1130"/><path class="b4 x" d="M590 860L955 1140"/><path class="b3" d="M965 1125L830 890"/><path class="b3 x" d="M480 925L950 1125"/><path class="r1 d x" d="M480 925L950 1125"/>
<path class="r5" d="M540 1085L480 985"/><path class="r3" d="M548 1080L548 870"/><path class="r3" d="M475 1170L540 870"/><path class="b3" d="M450 1175L440 930"/><path class="b3" d="M445 1180L378 1020"/><path class="r5" d="M720 1060L430 1008"/><path class="r4" d="M960 1150L460 1012"/><path class="r2" d="M480 1190L985 1010"/><path class="b4" d="M730 1050L985 1005"/><path class="r3" d="M725 1040L760 880"/><path class="r2" d="M560 1090L790 870"/><path class="b1" d="M730 1045L840 965"/><path class="r1" d="M740 1040L840 960"/><path class="b4" d="M985 1125L1007 1020"/><path class="b3" d="M1000 1175L1080 1245"/><path class="b3" d="M985 1180L1027 1350"/><path class="b2" d="M945 1185L850 1355"/><path class="b2 x" d="M1010 1158L1170 1170"/><path class="b1" d="M940 1175L620 1385"/><path class="b4" d="M945 1175L725 1262"/><path class="b3" d="M530 1110L235 1050"/><path class="r1" d="M430 1185L245 1065"/><path class="r2" d="M430 1195L275 1165"/><path class="b1 x" d="M950 1155L260 1160"/><path class="b1 x" d="M525 1120L260 1155"/><path class="r2 x" d="M430 1215L190 1245"/><path class="b1 x" d="M430 1215L190 1245"/><path class="b4" d="M435 1220L300 1300"/><path class="r1" d="M950 1165L305 1315"/><path class="r3" d="M445 1235L365 1365"/><path class="b1" d="M525 1125L370 1355"/><path class="b1" d="M505 1250L468 1430"/><path class="b5" d="M470 1230L545 1335"/><path class="r3" d="M553 1130L582 1375"/><path class="r3" d="M715 1060L610 1370"/><path class="r3" d="M715 1060L685 1230"/><path class="r3 x" d="M490 1225L830 1480"/><path class="b3" d="M490 1225L790 1360"/><path class="r2" d="M575 1120L800 1345"/><path class="b1" d="M570 1130L650 1240"/><path class="b1 x" d="M490 1220L1010 1375"/><path class="r2" d="M575 1115L1085 1250"/><path class="r3" d="M735 1065L1010 1370"/><path class="r2" d="M735 1060L1085 1245"/><path class="r1" d="M725 1060L810 1340"/><path class="b1 x" d="M575 1105L950 1145"/><path class="r5 x" d="M740 1060L950 1140"/><path class="b1 x" d="M490 1215L1085 1260"/><path class="b3 x" d="M490 1195L950 1165"/>
</g>
<g id="cr-SNP49753"><circle class="sb" cx="1390" cy="1411" r="7"/><text x="1390" y="1416">SNP49753</text></g>
<g id="cr-SNP48987"><circle class="sb" cx="1331" cy="1434" r="7"/><text x="1331" y="1439">SNP48987</text></g>
<g id="cr-QTL48794"><circle class="q" cx="1238" cy="1463" r="12"/><text x="1238" y="1468">QTL48794</text></g>
<g id="cr-QTL48832"><circle class="q" cx="1488" cy="1460" r="12"/><text x="1488" y="1465">QTL48832</text></g>
<g id="cr-SNP48996"><circle class="sb" cx="1377" cy="1480" r="7"/><text x="1377" y="1485">SNP48996</text></g>
<g id="cr-QTL48806"><circle class="q" cx="1541" cy="1500" r="12"/><text x="1541" y="1505">QTL48806</text></g>
<g id="cr-QTL48833"><circle class="q" cx="1435" cy="1513" r="12"/><text x="1435" y="1518">QTL48833</text></g>
<g id="cr-QTL48354"><circle class="q" cx="1184" cy="1526" r="12"/><text x="1184" y="1531">QTL48354</text></g>
<g id="cr-QTL48799"><circle class="q" cx="1263" cy="1536" r="12"/><text x="1263" y="1541">QTL48799</text></g>
<g id="cr-SNP48559"><circle class="sb" cx="1378" cy="1540" r="7"/><text x="1378" y="1545">SNP48559</text></g>
<g id="cr-SNP48763"><circle class="sb" cx="1565" cy="1539" r="7"/><text x="1565" y="1544">SNP48763</text></g>
<g id="cr-SNP48670"><circle class="sb" cx="1456" cy="1563" r="7"/><text x="1456" y="1568">SNP48670</text></g>
<g id="cr-QTL48802"><circle class="q" cx="1624" cy="1582" r="12"/><text x="1624" y="1587">QTL48802</text></g>
<g id="cr-QTL48892"><circle class="q" cx="1245" cy="1592" r="12"/><text x="1245" y="1597">QTL48892</text></g>
<g id="cr-SNP48921"><circle class="sb" cx="1396" cy="1588" r="7"/><text x="1396" y="1593">SNP48921</text></g>
<g id="cr-SNP48989"><circle class="sb" cx="1328" cy="1605" r="7"/><text x="1328" y="1610">SNP48989</text></g>
<g id="cr-QTL48916"><circle class="q" cx="1527" cy="1602" r="12"/><text x="1527" y="1607">QTL48916</text></g>
<g id="cr-QTL48811"><circle class="q" cx="1585" cy="1632" r="12"/><text x="1585" y="1637">QTL48811</text></g>
<g id="cr-QTL48502"><circle class="q" cx="1708" cy="1631" r="12"/><text x="1708" y="1636">QTL48502</text></g>
<g id="cr-QTL48797"><circle class="q" cx="1456" cy="1636" r="12"/><text x="1456" y="1641">QTL48797</text></g>
<g id="cr-SNP49744"><circle class="sb" cx="1294" cy="1639" r="7"/><text x="1294" y="1644">SNP49744</text></g>
<g id="cr-SNP154500"><circle class="sb" cx="1390" cy="1651" r="7"/><text x="1390" y="1656">SNP154500</text></g>
<g id="cr-QTL48370"><circle class="q" cx="1525" cy="1663" r="12"/><text x="1525" y="1668">QTL48370</text></g>
<g id="cr-SNP49589"><circle class="sb" cx="1271" cy="1676" r="7"/><text x="1271" y="1681">SNP49589</text></g>
<g id="cr-QTL48561"><circle class="q" cx="1346" cy="1687" r="12"/><text x="1346" y="1692">QTL48561</text></g>
<g id="cr-QTL48827"><circle class="q" cx="1640" cy="1688" r="12"/><text x="1640" y="1693">QTL48827</text></g>
<g id="cr-QTL86099"><circle class="q" cx="1448" cy="1694" r="12"/><text x="1448" y="1699">QTL86099</text></g>
<g id="cr-SNP49626"><circle class="sb" cx="1533" cy="1702" r="7"/><text x="1533" y="1707">SNP49626</text></g>
<g id="cr-SNP50052"><circle class="sb" cx="1301" cy="1713" r="7"/><text x="1301" y="1718">SNP50052</text></g>
<g id="cr-SNP49864"><circle class="sb" cx="1471" cy="1729" r="7"/><text x="1471" y="1734">SNP49864</text></g>
<g id="cr-SNP48994"><circle class="sb" cx="1613" cy="1733" r="7"/><text x="1613" y="1738">SNP48994</text></g>
<g id="cr-SNP49107"><circle class="sb" cx="1272" cy="1744" r="7"/><text x="1272" y="1749">SNP49107</text></g>
<g id="cr-SNP49008"><circle class="sb" cx="1531" cy="1745" r="7"/><text x="1531" y="1750">SNP49008</text></g>
<g id="cr-SNP48980"><circle class="sb" cx="1413" cy="1765" r="7"/><text x="1413" y="1770">SNP48980</text></g>
<g id="cr-SNP48981"><circle class="sb" cx="1215" cy="1764" r="7"/><text x="1215" y="1769">SNP48981</text></g>
<g id="cr-QTL48891"><circle class="q" cx="1345" cy="1785" r="12"/><text x="1345" y="1790">QTL48891</text></g>
<g id="cr-QTL48886"><circle class="q" cx="1515" cy="1803" r="12"/><text x="1515" y="1808">QTL48886</text></g>
<g id="cr-SNP48979"><circle class="sb" cx="1223" cy="1805" r="7"/><text x="1223" y="1810">SNP48979</text></g>
<g id="cr-QTL48729"><circle class="q" cx="1624" cy="1811" r="12"/><text x="1624" y="1816">QTL48729</text></g>
<g id="cr-QTL48922"><circle class="q" cx="1310" cy="1821" r="12"/><text x="1310" y="1826">QTL48922</text></g>
<g id="cr-SNP48360"><circle class="sb" cx="1193" cy="1839" r="7"/><text x="1193" y="1844">SNP48360</text></g>
<g id="cr-QTL48826"><circle class="q" cx="1396" cy="1849" r="12"/><text x="1396" y="1854">QTL48826</text></g>
<g id="cr-SNP50049"><circle class="sb" cx="1568" cy="1844" r="7"/><text x="1568" y="1849">SNP50049</text></g>
<g id="cr-SNP50048"><circle class="sb" cx="1235" cy="1863" r="7"/><text x="1235" y="1868">SNP50048</text></g>
<g id="cr-QTL48824"><circle class="q" cx="1455" cy="1886" r="12"/><text x="1455" y="1891">QTL48824</text></g>
<g id="cr-SNP49614"><circle class="sb" cx="1539" cy="1888" r="7"/><text x="1539" y="1893">SNP49614</text></g>
<g id="cr-QTL48817"><circle class="q" cx="1264" cy="1892" r="12"/><text x="1264" y="1897">QTL48817</text></g>
<g id="cr-SNP49730"><circle class="sb" cx="1364" cy="1893" r="7"/><text x="1364" y="1898">SNP49730</text></g>
<g id="cr-QTL48814"><circle class="q" cx="1309" cy="1916" r="12"/><text x="1309" y="1921">QTL48814</text></g>
<g id="cr-SNP49077"><circle class="sb" cx="1463" cy="1926" r="7"/><text x="1463" y="1931">SNP49077</text></g>
</g>
</svg>
